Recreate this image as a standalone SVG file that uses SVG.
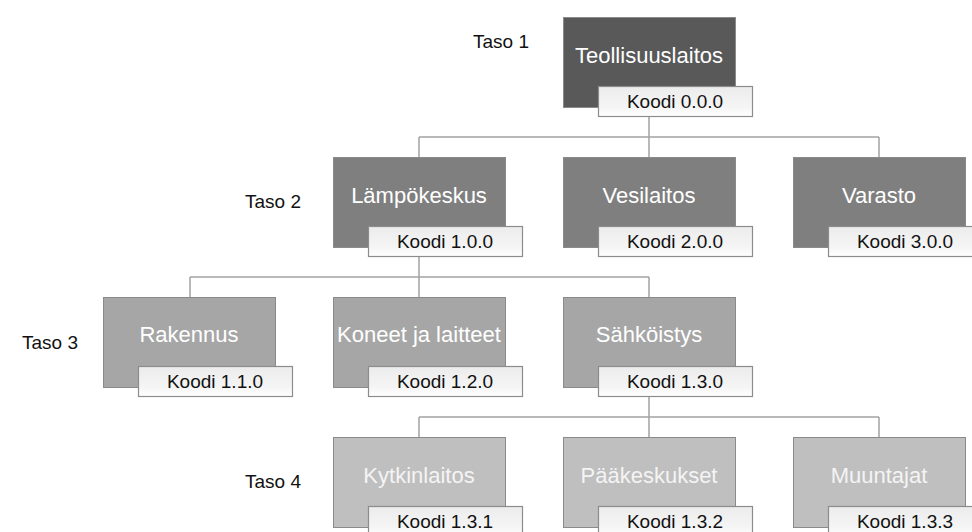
<svg xmlns="http://www.w3.org/2000/svg" width="972" height="532" viewBox="0 0 972 532">
<defs>
<linearGradient id="lg" x1="0" y1="0" x2="0" y2="1">
<stop offset="0" stop-color="#ececec"/>
<stop offset="0.7" stop-color="#f5f5f5"/>
<stop offset="1" stop-color="#ffffff"/>
</linearGradient>
</defs>
<style>
.box{stroke:#8a8a8a;stroke-width:1}
.l1{fill:#595959}
.l2{fill:#7f7f7f}
.l3{fill:#a6a6a6}
.l4{fill:#bfbfbf}
.lab{fill:url(#lg);stroke:#8c8c8c;stroke-width:1.2}
.bt{font-family:"Liberation Sans",Arial,sans-serif;font-size:22px;fill:#ffffff;text-anchor:middle}
.bt4{fill:#f4f4f4}
.lt{font-family:"Liberation Sans",Arial,sans-serif;font-size:19px;fill:#111111;text-anchor:middle}
.tt{font-family:"Liberation Sans",Arial,sans-serif;font-size:19px;fill:#111111}
.con{fill:none;stroke:#a3a3a3;stroke-width:1.5}
</style>
<rect width="972" height="532" fill="#ffffff"/>
<g id="connectors">
<path class="con" d="M649 116V137M419 137H879M419 137V157M649 137V157M879 137V157"/>
<path class="con" d="M419 257V277M190 277H649M190 277V297M419 277V297M649 277V297"/>
<path class="con" d="M649 397V417M419 417H879M419 417V437M649 417V437M879 417V437"/>
</g>
<g id="levels">
<text class="tt" x="473" y="48">Taso 1</text>
<text class="tt" x="245" y="208">Taso 2</text>
<text class="tt" x="22" y="349">Taso 3</text>
<text class="tt" x="245" y="488">Taso 4</text>
</g>
<g id="n000">
<rect class="box l1" x="563.5" y="17.5" width="172" height="90"/>
<text class="bt" x="649" y="63">Teollisuuslaitos</text>
<rect class="lab" x="598.5" y="86.5" width="154" height="30"/>
<text class="lt" x="675" y="108">Koodi 0.0.0</text>
</g>
<g id="n100">
<rect class="box l2" x="333.5" y="157.5" width="172" height="90"/>
<text class="bt" x="419" y="203">Lämpökeskus</text>
<rect class="lab" x="368.5" y="226.5" width="154" height="30"/>
<text class="lt" x="445" y="248">Koodi 1.0.0</text>
</g>
<g id="n200">
<rect class="box l2" x="563.5" y="157.5" width="172" height="90"/>
<text class="bt" x="649" y="203">Vesilaitos</text>
<rect class="lab" x="598.5" y="226.5" width="154" height="30"/>
<text class="lt" x="675" y="248">Koodi 2.0.0</text>
</g>
<g id="n300">
<rect class="box l2" x="793.5" y="157.5" width="172" height="90"/>
<text class="bt" x="879" y="203">Varasto</text>
<rect class="lab" x="828.5" y="226.5" width="154" height="30"/>
<text class="lt" x="905" y="248">Koodi 3.0.0</text>
</g>
<g id="n110">
<rect class="box l3" x="103.5" y="297.5" width="172" height="90"/>
<text class="bt" x="189" y="342">Rakennus</text>
<rect class="lab" x="138.5" y="366.5" width="154" height="30"/>
<text class="lt" x="215" y="388">Koodi 1.1.0</text>
</g>
<g id="n120">
<rect class="box l3" x="333.5" y="297.5" width="172" height="90"/>
<text class="bt" x="419" y="342">Koneet ja laitteet</text>
<rect class="lab" x="368.5" y="366.5" width="154" height="30"/>
<text class="lt" x="445" y="388">Koodi 1.2.0</text>
</g>
<g id="n130">
<rect class="box l3" x="563.5" y="297.5" width="172" height="90"/>
<text class="bt" x="649" y="342">Sähköistys</text>
<rect class="lab" x="598.5" y="366.5" width="154" height="30"/>
<text class="lt" x="675" y="388">Koodi 1.3.0</text>
</g>
<g id="n131">
<rect class="box l4" x="333.5" y="437.5" width="172" height="90"/>
<text class="bt bt4" x="419" y="483">Kytkinlaitos</text>
<rect class="lab" x="368.5" y="506.5" width="154" height="30"/>
<text class="lt" x="445" y="528">Koodi 1.3.1</text>
</g>
<g id="n132">
<rect class="box l4" x="563.5" y="437.5" width="172" height="90"/>
<text class="bt bt4" x="649" y="483">Pääkeskukset</text>
<rect class="lab" x="598.5" y="506.5" width="154" height="30"/>
<text class="lt" x="675" y="528">Koodi 1.3.2</text>
</g>
<g id="n133">
<rect class="box l4" x="793.5" y="437.5" width="172" height="90"/>
<text class="bt bt4" x="879" y="483">Muuntajat</text>
<rect class="lab" x="828.5" y="506.5" width="154" height="30"/>
<text class="lt" x="905" y="528">Koodi 1.3.3</text>
</g>
</svg>
